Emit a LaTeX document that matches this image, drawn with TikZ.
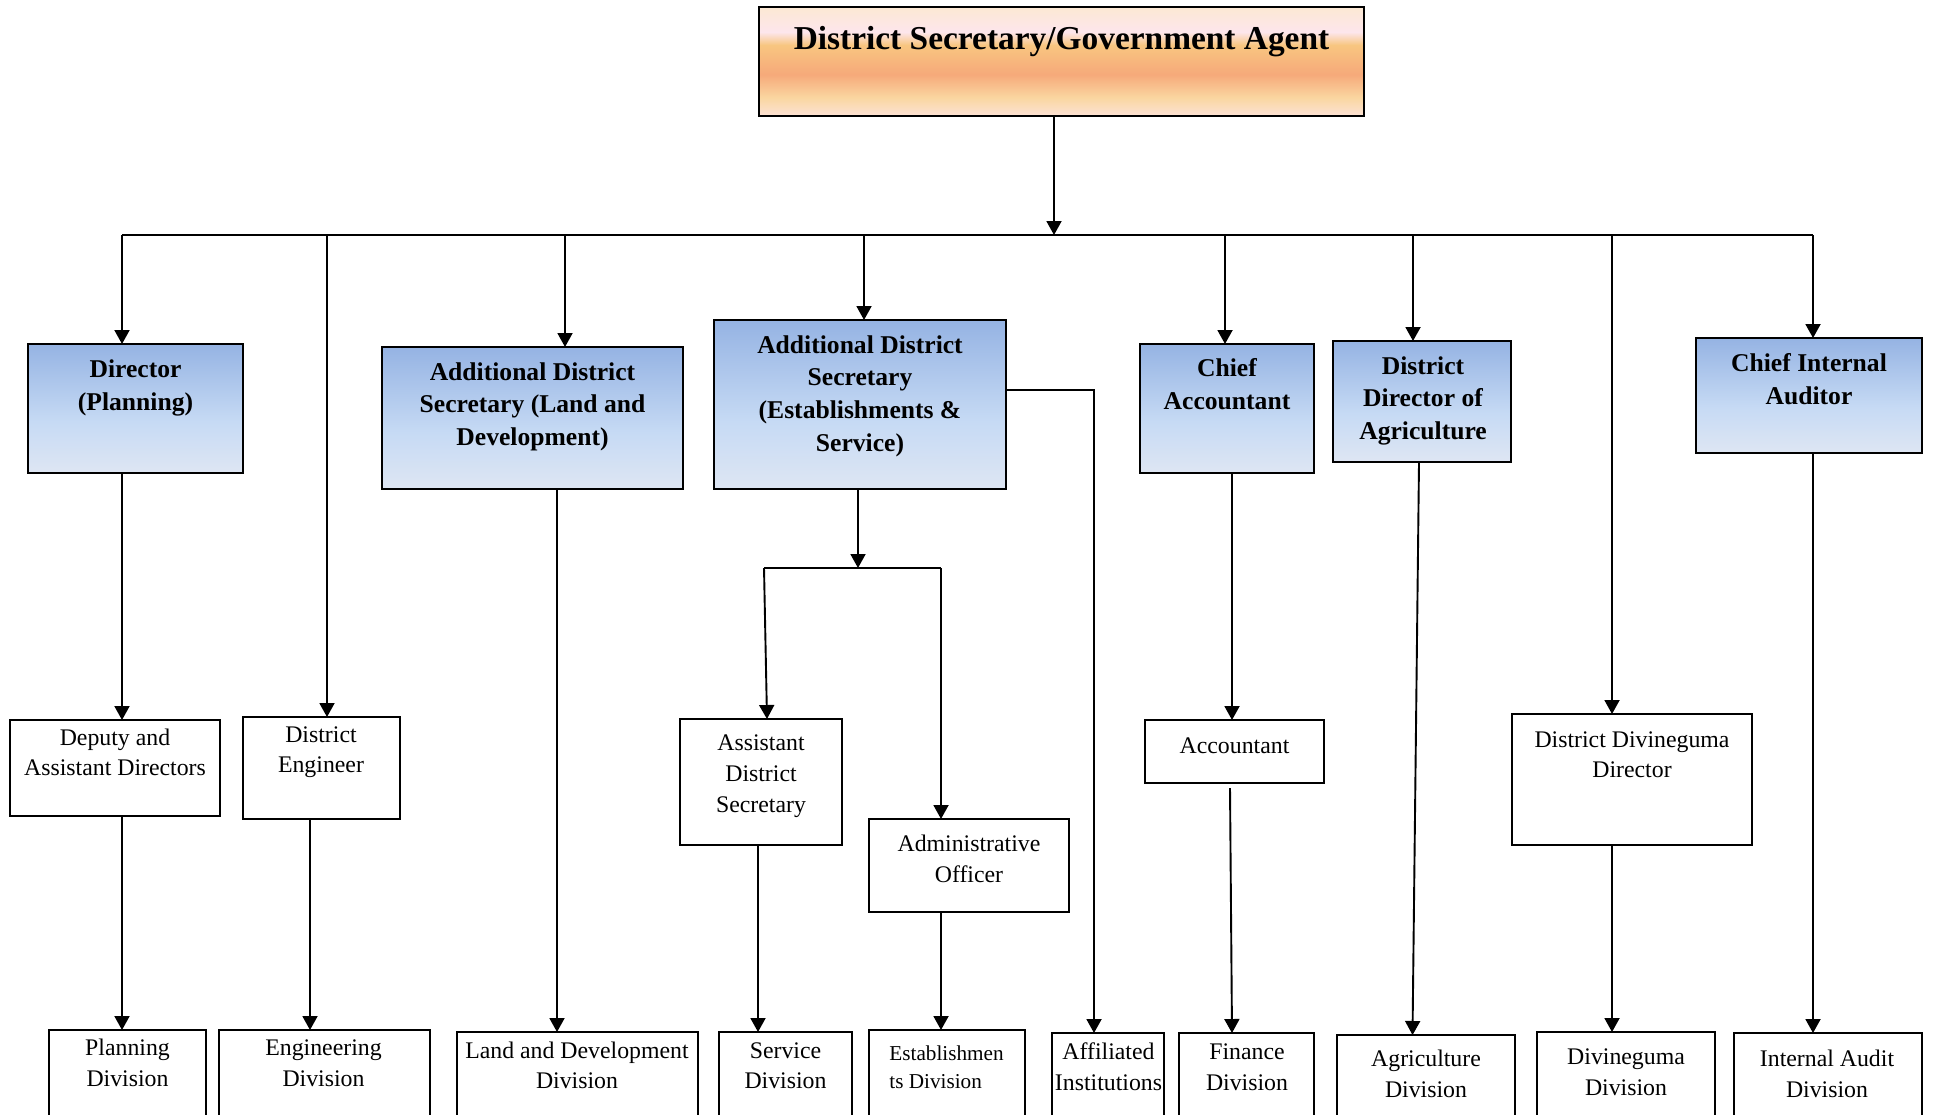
\documentclass[tikz,border=0pt]{standalone}
\usepackage{fontspec}
\setmainfont{Liberation Serif}
\usetikzlibrary{arrows.meta,calc}
\definecolor{og0}{HTML}{FCE8D3}
\definecolor{og1}{HTML}{FDE6EC}
\definecolor{og2}{HTML}{F8C680}
\definecolor{og3}{HTML}{F6A97A}
\definecolor{og4}{HTML}{FAD6A0}
\definecolor{og5}{HTML}{FCE2D5}
\definecolor{bg0}{HTML}{95B3E3}
\definecolor{bg1}{HTML}{C6DAF4}
\definecolor{bg2}{HTML}{DEE6F3}
\pgfdeclareverticalshading{orangegrad}{100bp}{color(0bp)=(og5); color(25bp)=(og5); color(33.5bp)=(og4); color(44bp)=(og3); color(57.5bp)=(og2); color(63.5bp)=(og1); color(75bp)=(og0); color(100bp)=(og0)}
\pgfdeclareverticalshading{bluegrad}{100bp}{color(0bp)=(bg2); color(25bp)=(bg2); color(45bp)=(bg1); color(75bp)=(bg0); color(100bp)=(bg0)}
\newcommand\mlt[1]{\begin{tabular}[t]{@{}c@{}}#1\end{tabular}}
\newcommand\mll[1]{\begin{tabular}[t]{@{}l@{}}#1\end{tabular}}
\begin{document}
\begin{tikzpicture}[x=0.5pt,y=-0.5pt,
  box/.style={draw, line width=1pt, inner sep=0pt, outer sep=0pt},
  obox/.style={box, shade, shading=orangegrad},
  bbox/.style={box, shade, shading=bluegrad},
  wbox/.style={box, fill=white},
  ttl/.style={inner sep=0pt, anchor=base, font=\fontsize{16.7}{20}\selectfont\bfseries},
  hdr/.style={inner sep=0pt, anchor=base, font=\fontsize{12.8}{16.4}\selectfont\bfseries},
  txt/.style={inner sep=0pt, anchor=base, font=\fontsize{11.9}{15.4}\selectfont},
  stxt/.style={inner sep=0pt, anchor=base west, font=\fontsize{10.6}{14.2}\selectfont},
  ln/.style={line width=0.95pt},
  arr/.style={ln, -{Triangle[length=7pt,width=7.5pt]}}]
\useasboundingbox (0,0) rectangle (1936,1114);
\clip (0,0) rectangle (1936,1114);
\fill[white] (0,0) rectangle (1936,1114);

% top
\node[obox, minimum width=302.5pt, minimum height=54.5pt] (top) at (1061.5,61.5) {};
\node[ttl] (topT) at (1061.5,49) {District Secretary/Government Agent};

% second level
\node[bbox, minimum width=107.5pt, minimum height=64.5pt] (dp) at (135.5,408.5) {};
\node[hdr] (dpT) at (135.5,377.7) {\mlt{Director\\(Planning)}};
\node[bbox, minimum width=150.5pt, minimum height=71pt] (adl) at (532.5,418) {};
\node[hdr] (adlT) at (532.5,380) {\mlt{Additional District\\Secretary (Land and\\Development)}};
\node[bbox, minimum width=146pt, minimum height=84.5pt] (ade) at (860,404.5) {};
\node[hdr] (adeT) at (860,353) {\mlt{Additional District\\Secretary\\(Establishments \&\\Service)}};
\node[bbox, minimum width=87pt, minimum height=64.5pt] (ca) at (1227,408.5) {};
\node[hdr] (caT) at (1227,376.5) {\mlt{Chief\\Accountant}};
\node[bbox, minimum width=89pt, minimum height=60.5pt] (dda) at (1422,401.5) {};
\node[hdr] (ddaT) at (1423,374) {\mlt{District\\Director of\\Agriculture}};
\node[bbox, minimum width=113pt, minimum height=57.5pt] (cia) at (1809,395.5) {};
\node[hdr] (ciaT) at (1809,371.5) {\mlt{Chief Internal\\Auditor}};

% third level
\node[wbox, minimum width=105pt, minimum height=48pt] (dad) at (115,768) {};
\node[txt] (dadT) at (115,745) {\mlt{Deputy and\\Assistant Directors}};
\node[wbox, minimum width=78.5pt, minimum height=51pt] (de) at (321.5,768) {};
\node[txt] (deT) at (321,742) {\mlt{District\\Engineer}};
\node[wbox, minimum width=81pt, minimum height=63pt] (ads) at (761,782) {};
\node[txt] (adsT) at (761,750.5) {\mlt{Assistant\\District\\Secretary}};
\node[wbox, minimum width=100pt, minimum height=46.5pt] (ao) at (969,865.5) {};
\node[txt] (aoT) at (969,851.5) {\mlt{Administrative\\Officer}};
\node[wbox, minimum width=89.5pt, minimum height=31.5pt] (acc) at (1234.5,751.5) {};
\node[txt] (accT) at (1234.5,753) {Accountant};
\node[wbox, minimum width=120pt, minimum height=65.5pt] (ddd) at (1632,779.5) {};
\node[txt] (dddT) at (1632,747) {\mlt{District Divineguma\\Director}};

% bottom level
\node[wbox, minimum width=78.5pt, minimum height=50pt] (pd) at (127.5,1080) {};
\node[txt] (pdT) at (127.5,1055.5) {\mlt{Planning\\Division}};
\node[wbox, minimum width=105.5pt, minimum height=50pt] (ed) at (324.5,1080) {};
\node[txt] (edT) at (323.5,1055.5) {\mlt{Engineering\\Division}};
\node[wbox, minimum width=120.5pt, minimum height=49pt] (ld) at (577.5,1081) {};
\node[txt] (ldT) at (577,1058) {\mlt{Land and Development\\Division}};
\node[wbox, minimum width=66.5pt, minimum height=49pt] (sd) at (785.5,1081) {};
\node[txt] (sdT) at (785.5,1058) {\mlt{Service\\Division}};
\node[wbox, minimum width=78pt, minimum height=50pt] (esd) at (947,1080) {};
\node[stxt] (esdT) at (889,1060) {\mll{Establishmen\\ts Division}};
\node[wbox, minimum width=56pt, minimum height=48.5pt] (ai) at (1108,1081.5) {};
\node[txt] (aiT) at (1108.5,1059.5) {\mlt{Affiliated\\Institutions}};
\node[wbox, minimum width=67.5pt, minimum height=48.5pt] (fd) at (1246.5,1081.5) {};
\node[txt] (fdT) at (1247,1059.5) {\mlt{Finance\\Division}};
\node[wbox, minimum width=89pt, minimum height=47.5pt] (agd) at (1426,1082.5) {};
\node[txt] (agdT) at (1426,1066.5) {\mlt{Agriculture\\Division}};
\node[wbox, minimum width=89pt, minimum height=49pt] (dvd) at (1626,1081) {};
\node[txt] (dvdT) at (1626,1064.5) {\mlt{Divineguma\\Division}};
\node[wbox, minimum width=94pt, minimum height=48.5pt] (iad) at (1828,1081.5) {};
\node[txt] (iadT) at (1827,1066.5) {\mlt{Internal Audit\\Division}};

% bus coordinates
\coordinate (bT) at (1054,235);
\coordinate (b1) at (122,235);
\coordinate (b2) at (327,235);
\coordinate (b3) at (565,235);
\coordinate (b4) at (864,235);
\coordinate (b5) at (1225,235);
\coordinate (b6) at (1413,235);
\coordinate (b7) at (1612,235);
\coordinate (b8) at (1813,235);
\coordinate (x2) at (310,0);
\coordinate (x3) at (557,0);
\coordinate (x4) at (758,0);
\coordinate (x5) at (1232,0);
\coordinate (s0) at (858,568);
\coordinate (sL) at (764,568);
\coordinate (sR) at (941,568);
\coordinate (aiX) at (1094,390);
\coordinate (fA) at (1230,788);

\draw[ln] (b1) -- (b8);
\draw[arr] (top.south -| bT) -- (bT);
\draw[arr] (b1) -- (b1 |- dp.north);
\draw[arr] (b2) -- (b2 |- de.north);
\draw[arr] (b3) -- (b3 |- adl.north);
\draw[arr] (b4) -- (b4 |- ade.north);
\draw[arr] (b5) -- (b5 |- ca.north);
\draw[arr] (b6) -- (b6 |- dda.north);
\draw[arr] (b7) -- (b7 |- ddd.north);
\draw[arr] (b8) -- (b8 |- cia.north);

\draw[arr] (dp.south -| b1) -- (dad.north -| b1);
\draw[arr] (dad.south -| b1) -- (pd.north -| b1);
\draw[arr] (de.south -| x2) -- (ed.north -| x2);
\draw[arr] (adl.south -| x3) -- (ld.north -| x3);
\draw[arr] (ade.south -| s0) -- (s0);
\draw[ln] (sL) -- (sR);
\draw[arr] (sL) -- ($(ads.north)+(6,0)$);
\draw[arr] (sR) -- (sR |- ao.north);
\draw[arr] (ads.south -| x4) -- (sd.north -| x4);
\draw[arr] (ao.south -| sR) -- (esd.north -| sR);
\draw[arr] (ade.east |- aiX) -- (aiX) -- (aiX |- ai.north);
\draw[arr] (ca.south -| x5) -- (acc.north -| x5);
\draw[arr] (fA) -- (fd.north -| x5);
\draw[arr] ($(dda.south)+(-3,0)$) -- ($(agd.north)+(-13.5,0)$);
\draw[arr] (ddd.south -| b7) -- (dvd.north -| b7);
\draw[arr] (cia.south -| b8) -- (iad.north -| b8);
\end{tikzpicture}
\end{document}
